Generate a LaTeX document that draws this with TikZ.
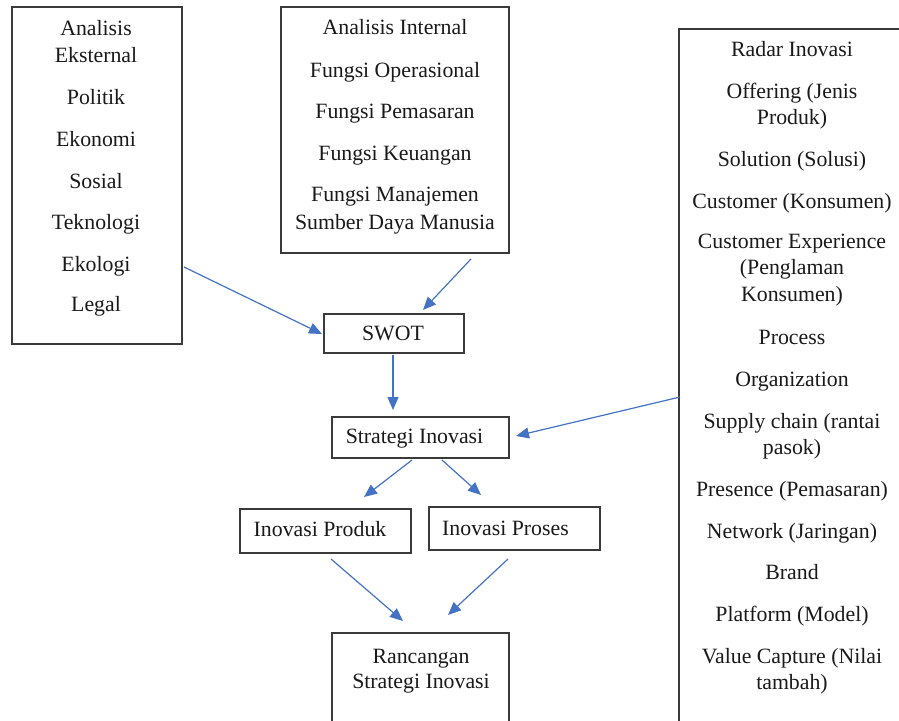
\documentclass[tikz,border=0pt]{standalone}
\usepackage{fontspec}
\setmainfont{Liberation Serif}
\usetikzlibrary{arrows.meta}
\definecolor{arrblue}{HTML}{4472C4}
\definecolor{boxline}{HTML}{3A3A3A}
\begin{document}
\begin{tikzpicture}[x=1pt,y=-1pt,
  box/.style={draw=boxline, line width=1.2pt, rectangle, inner sep=0pt},
  txt/.style={anchor=base, inner sep=0pt, text=black!90, font=\fontsize{21.8}{26}\selectfont},
  arr/.style={draw=arrblue, line width=1.2pt, -{Triangle[length=13pt,width=11pt]}}]
\useasboundingbox (0,0) rectangle (899,720);

% boxes
\node[box, minimum width=170pt, minimum height=337pt] (ext) at (97,175.5) {};
\node[box, minimum width=228pt, minimum height=246pt] (int) at (395,130) {};
\node[box, minimum width=240pt, minimum height=720pt] (radar) at (799,389) {};
\node[box, minimum width=140pt, minimum height=39pt] (swot) at (394,333.5) {};
\node[box, minimum width=177pt, minimum height=41pt] (stra) at (420.5,437.5) {};
\node[box, minimum width=171pt, minimum height=44pt] (prod) at (325.5,531) {};
\node[box, minimum width=171pt, minimum height=43pt] (pros) at (514.5,528.5) {};
\node[box, minimum width=177pt, minimum height=114pt] (ranc) at (420.5,690) {};

% texts
\foreach \t/\y [count=\i] in {Analisis/29, Eksternal/56, Politik/98, Ekonomi/140,
  Sosial/182, Teknologi/223, Ekologi/265, Legal/305}
  \node[txt] (ext-t\i) at (96,\y+6.5) {\t};

\foreach \t/\y [count=\i] in {{Analisis Internal}/28, {Fungsi Operasional}/71,
  {Fungsi Pemasaran}/112, {Fungsi Keuangan}/154, {Fungsi Manajemen}/195,
  {Sumber Daya Manusia}/223}
  \node[txt] (int-t\i) at (395,\y+6.5) {\t};

\foreach \t/\y [count=\i] in {{Radar Inovasi}/50, {Offering (Jenis}/92, {Produk)}/118,
  {Solution (Solusi)}/160, {Customer (Konsumen)}/202, {Customer Experience}/242,
  {(Penglaman}/268, {Konsumen)}/295, {Process}/338, {Organization}/380,
  {Supply chain (rantai}/422, {pasok)}/448, {Presence (Pemasaran)}/490,
  {Network (Jaringan)}/532, {Brand}/573, {Platform (Model)}/615,
  {Value Capture (Nilai}/657, {tambah)}/683}
  \node[txt] (radar-t\i) at (792,\y+6.5) {\t};

\node[txt] (swot-t) at (393,334+6.5) {SWOT};
\node[txt] (stra-t) at (414.5,437+6.5) {Strategi Inovasi};
\node[txt] (prod-t) at (320,530+6.5) {Inovasi Produk};
\node[txt] (pros-t) at (505.5,529+6.5) {Inovasi Proses};
\node[txt] (ranc-t1) at (421,657+6.5) {Rancangan};
\node[txt] (ranc-t2) at (421,682+6.5) {Strategi Inovasi};

% connector end points
\coordinate (a1s) at (184,267);   \coordinate (a1e) at (322,334);
\coordinate (a2s) at (471,259);   \coordinate (a2e) at (423,310);
\coordinate (a3s) at (393,355);   \coordinate (a3e) at (393,410);
\coordinate (a4s) at (680,397);   \coordinate (a4e) at (516,436);
\coordinate (a5s) at (412,460);   \coordinate (a5e) at (364,497);
\coordinate (a6s) at (442,460);   \coordinate (a6e) at (481,495);
\coordinate (a7s) at (331,559);   \coordinate (a7e) at (403,621);
\coordinate (a8s) at (508,559);   \coordinate (a8e) at (448,615);

\draw[arr] (a1s) -- (a1e);
\draw[arr] (a2s) -- (a2e);
\draw[arr] (a3s) -- (a3e);
\draw[arr] (a4s) -- (a4e);
\draw[arr] (a5s) -- (a5e);
\draw[arr] (a6s) -- (a6e);
\draw[arr] (a7s) -- (a7e);
\draw[arr] (a8s) -- (a8e);
\end{tikzpicture}
\end{document}
